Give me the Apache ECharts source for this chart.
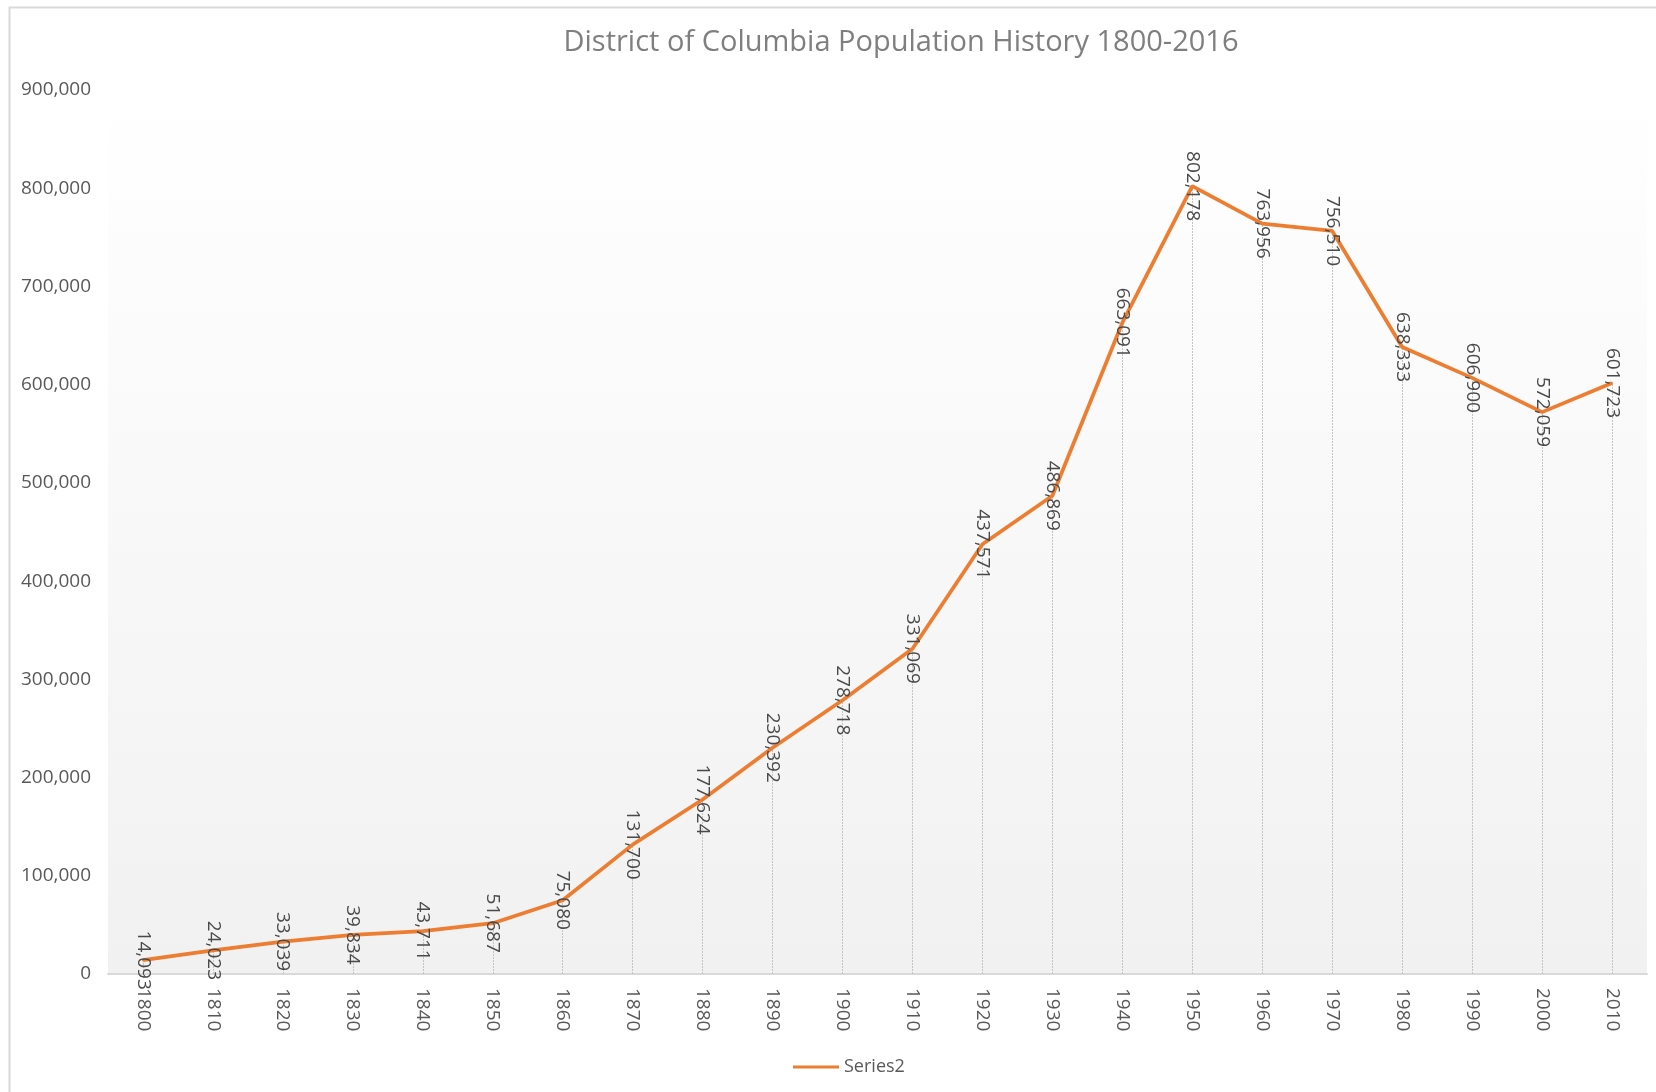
<!DOCTYPE html>
<html>
<head>
<meta charset="utf-8">
<title>District of Columbia Population History 1800-2016</title>
<script src="https://cdn.jsdelivr.net/npm/echarts@6/dist/echarts.min.js"></script>
<style>
  html, body { margin: 0; padding: 0; background: #fff; }
  #main { width: 1656px; height: 1092px; }
</style>
</head>
<body>
<div id="main"></div>
<script>
var years = ['1800', '1810', '1820', '1830', '1840', '1850', '1860', '1870', '1880', '1890', '1900',
  '1910', '1920', '1930', '1940', '1950', '1960', '1970', '1980', '1990', '2000', '2010'];
var population = [14093, 24023, 33039, 39834, 43711, 51687, 75080, 131700, 177624, 230392, 278718,
  331069, 437571, 486869, 663091, 802178, 763956, 756510, 638333, 606900, 572059, 601723];
var yTicks = [0, 100000, 200000, 300000, 400000, 500000, 600000, 700000, 800000, 900000];

var fontFamily = '"Open Sans", "Noto Sans", sans-serif';

// drop lines from every point down to the axis
var dropLines = population.map(function (v, i) {
  return [{ coord: [i, 0] }, { coord: [i, v] }];
});

var myChart = echarts.init(document.getElementById('main'));

var option = {
  backgroundColor: '#fff',
  animation: false,
  textStyle: { fontFamily: fontFamily },
  title: {
    text: 'District of Columbia Population History 1800-2016',
    left: 896,
    top: 23,
    textAlign: 'center',
    textStyle: { color: '#7f7f7f', fontSize: 29, fontWeight: 'normal', fontFamily: fontFamily }
  },
  graphic: [{
    type: 'rect',
    left: 7, top: 5,
    shape: { width: 1700, height: 1200 },
    style: { fill: 'none', stroke: '#d9d9d9', lineWidth: 2 },
    silent: true
  }],
  legend: {
    data: ['Series2'],
    left: 788,
    top: 1053,
    icon: 'rect',
    itemWidth: 46,
    itemHeight: 3,
    itemGap: 6,
    textStyle: { color: '#595959', fontSize: 18, fontFamily: fontFamily }
  },
  grid: {
    left: 108,
    right: 9,
    top: 90,
    bottom: 118,
    show: true,
    borderWidth: 0,
    backgroundColor: new echarts.graphic.LinearGradient(0, 0, 0, 1, [
      { offset: 0, color: '#ffffff' },
      { offset: 1, color: '#f1f1f1' }
    ])
  },
  xAxis: {
    type: 'category',
    data: years,
    boundaryGap: true,
    axisLine: { lineStyle: { color: '#d9d9d9', width: 2 } },
    axisTick: { show: false },
    axisLabel: {
      rotate: -90,
      margin: 14,
      color: '#595959',
      fontSize: 19,
      fontFamily: fontFamily
    },
    splitLine: { show: false }
  },
  yAxis: {
    type: 'value',
    min: 0,
    max: 900000,
    interval: 100000,
    axisLine: { show: false },
    axisTick: { show: false },
    splitLine: { show: false },
    axisLabel: {
      margin: 17,
      color: '#595959',
      fontSize: 19,
      fontFamily: fontFamily,
      customValues: yTicks,
      formatter: function (v) { return v.toLocaleString('en-US'); }
    }
  },
  series: [{
    name: 'Series2',
    type: 'line',
    data: population,
    showSymbol: true,
    symbol: 'circle',
    symbolSize: 2,
    lineStyle: { color: '#ED7D31', width: 3.75 },
    itemStyle: { color: '#ED7D31' },
    label: {
      show: true,
      position: 'inside',
      rotate: -90,
      color: '#4a4a4a',
      fontSize: 19,
      fontFamily: fontFamily,
      formatter: function (p) { return p.value.toLocaleString('en-US'); }
    },
    markLine: {
      silent: true,
      symbol: 'none',
      label: { show: false },
      z: 1,
      lineStyle: { color: '#c4c4c4', type: [2, 1], width: 1 },
      data: dropLines
    },
    z: 3
  }]
};

myChart.setOption(option);
</script>
</body>
</html>
